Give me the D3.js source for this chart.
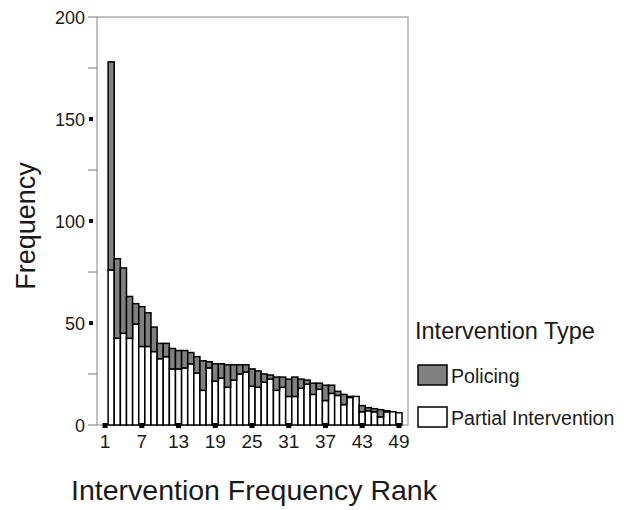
<!DOCTYPE html>
<meta charset="utf-8">
<style>
body { margin: 0; background: #fff; }
text { font-family: "Liberation Sans", Arial, sans-serif; fill: #1a1a1a; }
</style>
<body>
<script src="https://d3js.org/d3.v7.min.js"></script>
<script>
// categories (rank 1 slot is empty in the original)
var ranks = d3.range(1, 50);
var barRanks = d3.range(2, 50);
var partial = [76, 42.5, 45, 42.5, 49.5, 38.5, 38.5, 36, 32.5, 33.5,
               27.5, 27.5, 28, 30, 25.5, 17, 28, 21.5, 23, 18.5,
               22, 25, 26, 19, 18.5, 21, 22.5, 17, 18.5, 14,
               14, 18, 20, 15, 17.5, 12, 15.5, 14.5, 10, 13.5,
               14, 6.5, 7, 6.5, 4, 6.5, 6.5, 6];
var policing = [102, 39, 32, 20.5, 10, 19.5, 16.5, 12, 7.5, 6.5,
                10, 9, 8.5, 5.5, 8, 14.5, 3, 8.5, 7, 11,
                7.5, 4.5, 3.5, 8.5, 8, 4, 2, 6.5, 5, 8.5,
                9.5, 4.5, 2, 5.5, 3, 7.5, 4, 2, 5, 0.5,
                0, 3, 1.5, 1.5, 3.5, 0.5, 0, 0];
var xTicks = [1, 7, 13, 19, 25, 31, 37, 43, 49];
var yMajor = [0, 50, 100, 150, 200];
var yMinor = [25, 75, 125, 175];
var seriesNames = ["Policing", "Partial Intervention"];
var seriesColors = ["#808080", "#ffffff"];

var svg = d3.select("body").append("svg").attr("width", 624).attr("height", 510);

var x = d3.scaleBand().domain(ranks).range([102, 402]).padding(0);
var y = d3.scaleLinear().domain([0, 200]).range([425, 17]);

// frame
svg.append("rect").attr("x", 97).attr("y", 17).attr("width", 311).attr("height", 408)
  .attr("fill", "none").attr("stroke", "#888").attr("stroke-width", 1);

// stacked bars
var rows = barRanks.map(function (r, i) { return { rank: r, partial: partial[i], policing: policing[i] }; });
var stack = d3.stack().keys(["partial", "policing"])(rows);
var fills = { partial: seriesColors[1], policing: seriesColors[0] };

svg.selectAll("g.layer").data(stack).enter().append("g").attr("class", "layer")
  .attr("fill", function (d) { return fills[d.key]; })
  .selectAll("rect").data(function (d) { return d.filter(function (e) { return e[1] > e[0]; }); })
  .enter().append("rect")
  .attr("x", function (d) { return x(d.data.rank); })
  .attr("width", x.bandwidth())
  .attr("y", function (d) { return y(d[1]); })
  .attr("height", function (d) { return y(d[0]) - y(d[1]); })
  .attr("stroke", "#000").attr("stroke-width", 1.5);

// y axis ticks
svg.selectAll("line.ymin").data(yMinor.concat([0, 200])).enter().append("line")
  .attr("x1", 88).attr("x2", 97)
  .attr("y1", function (d) { return y(d); }).attr("y2", function (d) { return y(d); })
  .attr("stroke", "#777").attr("stroke-width", 1);
svg.selectAll("rect.ymaj").data([50, 100, 150]).enter().append("rect")
  .attr("x", 89).attr("y", function (d) { return y(d) - 2; })
  .attr("width", 4).attr("height", 4).attr("fill", "#000");
svg.selectAll("text.ylab").data(yMajor).enter().append("text")
  .attr("x", 85).attr("y", function (d) { return y(d) + 6.5; })
  .attr("text-anchor", "end").attr("font-size", 18)
  .text(function (d) { return d; });

// x axis ticks
svg.selectAll("rect.xt").data(xTicks).enter().append("rect")
  .attr("x", function (d) { return x(d) + x.bandwidth() / 2 - 2.5; })
  .attr("y", 423).attr("width", 5).attr("height", 5).attr("fill", "#000");
svg.selectAll("text.xlab").data(xTicks).enter().append("text")
  .attr("x", function (d) { return x(d) + x.bandwidth() / 2; })
  .attr("y", 448).attr("text-anchor", "middle").attr("font-size", 19)
  .text(function (d) { return d; });

// axis titles
svg.append("text").attr("transform", "translate(35,226) rotate(-90)")
  .attr("text-anchor", "middle").attr("font-size", 27).text("Frequency");
svg.append("text").attr("x", 254).attr("y", 500)
  .attr("text-anchor", "middle").attr("font-size", 28.5).text("Intervention Frequency Rank");

// legend
svg.append("text").attr("x", 415).attr("y", 339).attr("font-size", 23.5).text("Intervention Type");
var leg = svg.selectAll("g.leg").data(seriesNames).enter().append("g")
  .attr("transform", function (d, i) { return "translate(418," + (365 + i * 42) + ")"; });
leg.append("rect").attr("width", 29).attr("height", 20)
  .attr("fill", function (d, i) { return seriesColors[i]; })
  .attr("stroke", "#000").attr("stroke-width", 1.5);
leg.append("text").attr("x", 33).attr("y", 18).attr("font-size", 19.6).text(function (d) { return d; });
</script>
